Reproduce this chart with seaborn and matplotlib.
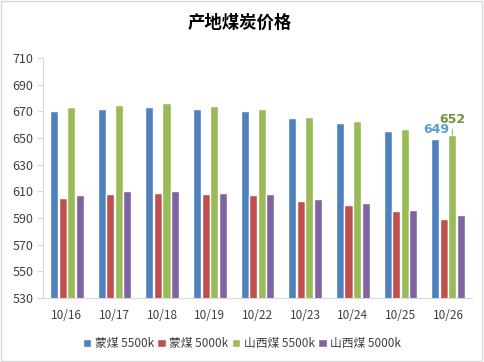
import matplotlib
matplotlib.use("Agg")
import matplotlib.pyplot as plt
import seaborn as sns
import pandas as pd
from matplotlib.patches import Rectangle

dates = ["10/16", "10/17", "10/18", "10/19", "10/22", "10/23", "10/24", "10/25", "10/26"]
meng_5500 = [670, 672, 673, 672, 670, 665, 661, 655, 649]
meng_5000 = [605, 608, 609, 608, 607, 603, 600, 595, 589]
shanxi_5500 = [673, 675, 676, 674, 672, 666, 663, 657, 652]
shanxi_5000 = [607, 610, 610, 609, 608, 604, 601, 596, 592]
series_names = ["蒙煤 5500k", "蒙煤 5000k", "山西煤 5500k", "山西煤 5000k"]
colors = ["#4F81BD", "#C0504D", "#9BBB59", "#8064A2"]

sns.set_style("white")
plt.rcParams['font.family'] = ['Noto Sans CJK SC', 'DejaVu Sans']

rows = []
for name, vals in zip(series_names, [meng_5500, meng_5000, shanxi_5500, shanxi_5000]):
    for d, v in zip(dates, vals):
        rows.append({"date": d, "series": name, "price": v})
df = pd.DataFrame(rows)

fig = plt.figure(figsize=(4.84, 3.62), dpi=100)
ax = fig.add_axes([0.089, 0.177, 0.886, 0.663])

sns.barplot(data=df, x="date", y="price", hue="series", palette=colors,
            width=0.72, gap=0.06, saturation=1, ax=ax, legend=True)

ax.set_ylim(530, 710)
ax.set_yticks(range(530, 711, 20))
ax.set_xlim(-0.5, len(dates) - 0.5)
ax.set_xlabel("")
ax.set_ylabel("")
ax.tick_params(axis="y", labelsize=9, labelcolor="#404040", length=4, color="#D9D9D9", direction="out", left=True, pad=3)
ax.set_xticks([i for i in range(len(dates))])
ax.set_xticklabels(dates)
ax.tick_params(axis="x", labelsize=8.5, labelcolor="#404040", length=0, pad=8)
# category separator ticks
ax.set_xticks([i - 0.5 for i in range(len(dates) + 1)], minor=True)
ax.tick_params(axis="x", which="minor", length=5, color="#D9D9D9", direction="out")
for s in ["top", "right"]:
    ax.spines[s].set_visible(False)
ax.spines["left"].set_color("#D9D9D9")
ax.spines["bottom"].set_color("#D9D9D9")

# value labels on last day
last = len(dates) - 1
ax.text(last - 0.25, meng_5500[-1] + 2.5, str(meng_5500[-1]), color="#5B9BD5",
        fontsize=9, fontweight="bold", ha="center", va="bottom", family="DejaVu Sans")
ax.annotate(str(shanxi_5500[-1]), xy=(last + 0.09, shanxi_5500[-1]),
            xytext=(last + 0.09, shanxi_5500[-1] + 7), color="#76923C",
            fontsize=9, fontweight="bold", ha="center", va="bottom", family="DejaVu Sans",
            arrowprops=dict(arrowstyle="-", color="#A6A6A6", lw=0.8, shrinkA=0, shrinkB=0))

ax.legend(loc="upper center", bbox_to_anchor=(0.464, -0.12), ncol=4, frameon=False,
          fontsize=8.5, handlelength=0.7, handleheight=0.7, handletextpad=0.3,
          columnspacing=0.3, labelcolor="#404040")

fig.text(0.496, 0.938, "产地煤炭价格", ha="center", va="center", fontsize=12.5,
         fontweight="bold", color="#000000")

fig.patches.append(Rectangle((0.003, 0.004), 0.992, 0.992, transform=fig.transFigure,
                             fill=False, edgecolor="#D9D9D9", lw=1))

fig.savefig("out.png", dpi=100)
